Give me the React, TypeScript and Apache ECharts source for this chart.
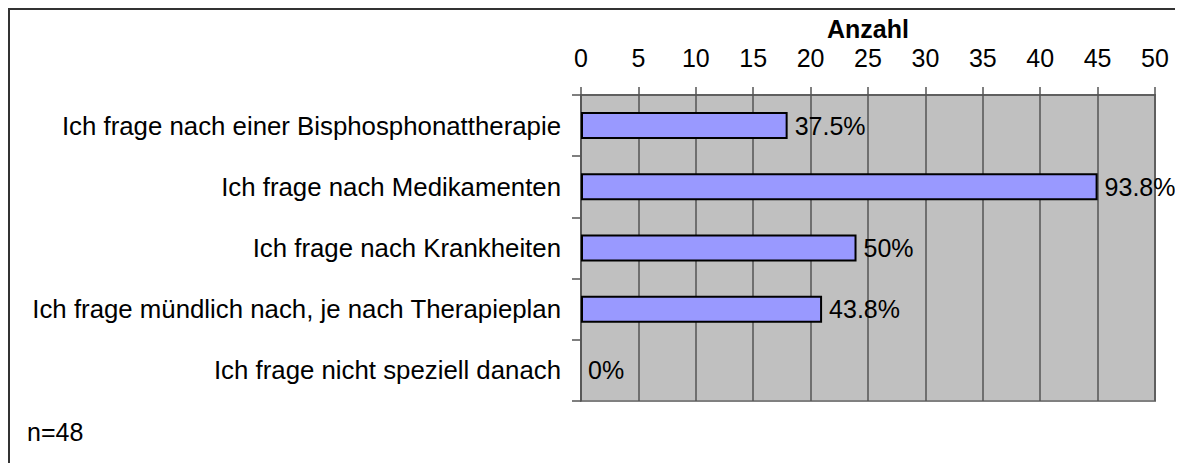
import React, { useEffect, useRef } from "react";
import * as echarts from "echarts";

const categories = [
  "Ich frage nach einer Bisphosphonattherapie",
  "Ich frage nach Medikamenten",
  "Ich frage nach Krankheiten",
  "Ich frage mündlich nach, je nach Therapieplan",
  "Ich frage nicht speziell danach",
];
const counts = [18, 45, 24, 21, 0];
const percentLabels = ["37.5%", "93.8%", "50%", "43.8%", "0%"];
const axisName = "Anzahl";
const noteText = "n=48";

const FONT = "Liberation Sans, Arial, sans-serif";
const FS = 25;

export default function App() {
  const ref = useRef<HTMLDivElement>(null);
  useEffect(() => {
    document.documentElement.style.overflow = "hidden";
    document.body.style.overflow = "hidden";
    if (!ref.current) return;
    const chart = echarts.init(ref.current, undefined, { renderer: "svg" });
    chart.setOption({
      animation: false,
      textStyle: { fontFamily: FONT },
      grid: {
        left: 573,
        right: 28,
        top: 87,
        bottom: 62,
        show: true,
        backgroundColor: "#C0C0C0",
        borderColor: "#808080",
        borderWidth: 2,
      },
      xAxis: {
        type: "value",
        position: "top",
        min: 0,
        max: 50,
        interval: 5,
        name: axisName,
        nameLocation: "middle",
        nameGap: 66,
        nameMoveOverlap: false,
        nameTextStyle: {
          fontSize: FS,
          fontWeight: "bold",
          color: "#000",
          fontFamily: FONT,
          verticalAlign: "middle",
          lineHeight: 20,
        },
        axisLine: { show: true, lineStyle: { color: "#555", width: 1.5 } },
        axisTick: { show: true, inside: false, length: 8, lineStyle: { color: "#555", width: 1.5 } },
        axisLabel: { fontSize: FS, color: "#000", margin: 27, fontFamily: FONT, lineHeight: 20 },
        splitLine: { show: true, lineStyle: { color: "#555", width: 1.5 } },
      },
      yAxis: {
        type: "category",
        data: categories,
        inverse: true,
        axisLine: { show: true, lineStyle: { color: "#555", width: 1.5 } },
        axisTick: { show: true, inside: false, length: 9, lineStyle: { color: "#555", width: 1.5 } },
        axisLabel: { fontSize: 25.8, color: "#000", margin: 20, fontFamily: FONT },
        splitLine: { show: false },
      },
      series: [
        {
          type: "bar",
          data: counts.map((v) => ({
            value: v,
            itemStyle: v === 0 ? { borderWidth: 0 } : undefined,
          })),
          barWidth: 27,
          itemStyle: { color: "#9999FF", borderColor: "#000", borderWidth: 2 },
          label: {
            show: true,
            position: "right",
            distance: 7,
            fontSize: FS,
            color: "#000",
            fontFamily: FONT,
            formatter: (p: any) => percentLabels[p.dataIndex],
          },
        },
      ],
      graphic: [
        {
          type: "polyline",
          shape: { points: [[1, 800], [1, 1], [1400, 1]] },
          style: { fill: "none", stroke: "#333", lineWidth: 2 },
          silent: true,
        },
        {
          type: "text",
          x: 19,
          y: 424,
          style: {
            text: noteText,
            fontSize: FS,
            fill: "#000",
            fontFamily: FONT,
            verticalAlign: "middle",
          },
        },
      ],
    });
    return () => chart.dispose();
  }, []);
  return <div ref={ref} style={{ width: 1175, height: 455 }} />;
}
